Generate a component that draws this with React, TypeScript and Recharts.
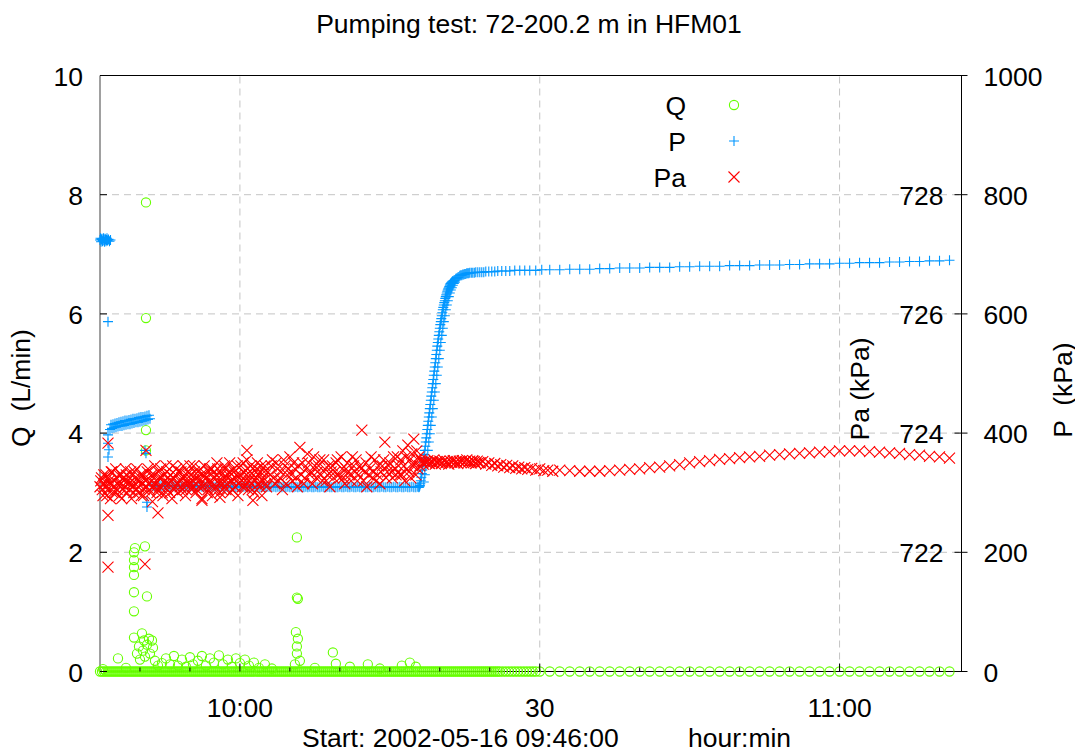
import React from 'react';
import { ComposedChart, Scatter, XAxis, YAxis, ReferenceLine, Legend } from 'recharts';

const FONT = '"Liberation Sans", Arial, Helvetica, sans-serif';
const FS = 26.5;
const Q_COLOR = '#66ff00';
const P_COLOR = '#0096ff';
const PA_COLOR = '#ff0000';
const GRID_COLOR = '#c4c4c4';

const TITLE = 'Pumping test: 72-200.2 m in HFM01';
const START_LABEL = 'Start: 2002-05-16 09:46:00';
const UNIT_LABEL = 'hour:min';
const Q_LABEL = 'Q  (L/min)';
const PA_LABEL = 'Pa (kPa)';
const P_LABEL = 'P  (kPa)';
const SERIES_ORDER = ['Q', 'P', 'Pa'];

// x = minutes after 09:46:00
const X_DOMAIN = [0, 86.1];
const xTicks = [4, 9, 14, 19, 24, 29, 34, 39, 44, 49, 54, 59, 64, 69, 74, 79, 84];
const xMajorTicks = [14, 44, 74];
const xMajorLabels = ['10:00', '30', '11:00'];
const qTicks = [0, 2, 4, 6, 8, 10];
const qGrid = [2, 4, 6, 8];
const paTicks = [722, 724, 726, 728];
const pTicks = [0, 200, 400, 600, 800, 1000];

// Q (L/min): readings at zero
const qZeroTimes = [
  0, 0.2, 0.4, 0.6, 0.8, 1.0, 1.2, 1.4, 1.6, 1.8, 2.0, 2.2, 2.4, 2.6, 2.8, 3.0, 3.2, 3.4, 3.6, 3.8,
  4.0, 4.2, 4.4, 4.6, 4.8, 5.0, 5.2, 5.4, 5.6, 5.8, 6.0, 6.2, 6.4, 6.6, 6.8, 7.0, 7.2, 7.4, 7.6, 7.8,
  8.0, 8.2, 8.4, 8.6, 8.8, 9.0, 9.2, 9.4, 9.6, 9.8, 10.0, 10.2, 10.4, 10.6, 10.8, 11.0, 11.2, 11.4, 11.6, 11.8,
  12.0, 12.2, 12.4, 12.6, 12.8, 13.0, 13.2, 13.4, 13.6, 13.8, 14.0, 14.2, 14.4, 14.6, 14.8, 15.0, 15.2, 15.4, 15.6, 15.8,
  16.0, 16.2, 16.4, 16.6, 16.8, 17.0, 17.2, 17.4, 17.6, 17.8, 18.0, 18.2, 18.4, 18.6, 18.8, 19.0, 19.2, 19.4, 19.6, 19.8,
  20.0, 20.2, 20.4, 20.6, 20.8, 21.0, 21.2, 21.4, 21.6, 21.8, 22.0, 22.2, 22.4, 22.6, 22.8, 23.0, 23.2, 23.4, 23.6, 23.8,
  24.0, 24.2, 24.4, 24.6, 24.8, 25.0, 25.2, 25.4, 25.6, 25.8, 26.0, 26.2, 26.4, 26.6, 26.8, 27.0, 27.2, 27.4, 27.6, 27.8,
  28.0, 28.2, 28.4, 28.6, 28.8, 29.0, 29.2, 29.4, 29.6, 29.8, 30.0, 30.2, 30.4, 30.6, 30.8, 31.0, 31.2, 31.4, 31.6, 31.8,
  32.0, 32.2, 32.4, 32.6, 32.8, 33.0, 33.2, 33.4, 33.6, 33.8, 34.0, 34.2, 34.4, 34.6, 34.8, 35.0, 35.2, 35.4, 35.6, 35.8,
  36.0, 36.2, 36.4, 36.6, 36.8, 37.0, 37.2, 37.4, 37.6, 37.8, 38.0, 38.2, 38.4, 38.6, 38.8, 39.0, 39.2, 39.4, 39.6, 39.8,
  40.0, 40.3, 40.6, 40.9, 41.2, 41.5, 41.8, 42.1, 42.4, 42.7, 43.0, 43.3, 43.6, 44.0,
  45, 46, 47, 48, 49, 50, 51, 52, 53, 54, 55, 56, 57, 58, 59, 60, 61, 62, 63, 64, 65, 66, 67, 68, 69,
  70, 71, 72, 73, 74, 75, 76, 77, 78, 79, 80, 81, 82, 83, 84, 85,
];

// Q (L/min): non-zero readings [minute, value]
const qBumps = [
  [0.3, 0.04], [1.8, 0.22], [2.6, 0.06], [3.4, 2.0], [3.4, 1.87], [3.4, 1.75], [3.4, 1.62], [3.4, 1.33],
  [3.4, 1.01], [3.4, 0.57], [3.5, 2.07], [3.7, 0.3], [3.9, 0.42], [4.0, 0.2], [4.2, 0.64], [4.3, 0.35],
  [4.4, 0.52], [4.5, 2.1], [4.5, 0.25], [4.6, 7.87], [4.6, 5.93], [4.6, 4.05], [4.6, 3.71], [4.7, 1.26],
  [4.7, 0.45], [4.9, 0.55], [5.0, 0.3], [5.2, 0.52], [5.3, 0.4], [5.5, 0.18], [5.8, 0.1], [6.2, 0.14],
  [6.6, 0.22], [7.0, 0.12], [7.4, 0.26], [7.8, 0.1], [8.2, 0.2], [8.6, 0.08], [9.0, 0.24], [9.3, 0.12],
  [9.8, 0.18], [10.2, 0.26], [10.6, 0.1], [11.0, 0.22], [11.4, 0.15], [11.9, 0.27], [12.3, 0.12],
  [12.8, 0.2], [13.2, 0.08], [13.6, 0.22], [14.0, 0.14], [14.5, 0.2], [14.9, 0.1], [15.4, 0.15],
  [15.9, 0.06], [16.5, 0.12], [17.2, 0.05], [19.5, 0.12], [19.6, 0.66], [19.7, 2.25], [19.7, 1.24],
  [19.7, 0.42], [19.7, 0.3], [19.8, 1.22], [19.8, 0.55], [20.0, 0.18], [21.5, 0.06], [23.3, 0.32],
  [23.6, 0.13], [25.0, 0.08], [26.8, 0.12], [28.0, 0.05], [30.2, 0.1], [31.0, 0.15], [31.6, 0.08],
];

// P (kPa) [minute, value]
const pStart = [
  [0, 724], [0.05, 727], [0.1, 721], [0.15, 725], [0.2, 726], [0.25, 722], [0.3, 723], [0.35, 727],
  [0.4, 724], [0.45, 721], [0.5, 726], [0.55, 725], [0.6, 722], [0.65, 724], [0.7, 727], [0.75, 723],
  [0.85, 725], [0.95, 722], [1.05, 724],
  [0.8, 587], [0.8, 397], [0.8, 383], [0.8, 360], [0.9, 372],
  [4.5, 371], [4.6, 366], [4.7, 284], [4.7, 276],
];
const pEarlyBand = [
  [1.0, 406], [1.1, 414], [1.2, 408], [1.3, 415], [1.4, 409], [1.5, 416], [1.6, 410], [1.7, 417],
  [1.8, 411], [1.9, 418], [2.0, 412], [2.1, 419], [2.2, 412], [2.3, 420], [2.4, 413], [2.5, 421],
  [2.6, 414], [2.7, 421], [2.8, 415], [2.9, 422], [3.0, 415], [3.1, 423], [3.2, 416], [3.3, 424],
  [3.4, 417], [3.5, 424], [3.6, 418], [3.7, 425], [3.8, 418], [3.9, 426], [4.0, 419], [4.1, 427],
  [4.2, 420], [4.3, 427], [4.4, 421], [4.5, 428], [4.6, 422], [4.7, 429], [4.8, 423], [4.9, 430], [5.0, 424],
];
const pFlat = [
  [5.2, 312], [5.4, 311], [5.6, 312], [5.8, 311], [6.0, 312], [6.2, 311], [6.4, 311], [6.6, 312], [6.8, 311], [7.0, 311],
  [7.2, 312], [7.4, 311], [7.6, 311], [7.8, 312], [8.0, 311], [8.2, 311], [8.4, 310], [8.6, 311], [8.8, 311], [9.0, 310],
  [9.2, 311], [9.4, 311], [9.6, 310], [9.8, 311], [10.0, 311], [10.2, 310], [10.4, 311], [10.6, 310], [10.8, 311], [11.0, 310],
  [11.2, 311], [11.4, 310], [11.6, 310], [11.8, 311], [12.0, 310], [12.2, 310], [12.4, 311], [12.6, 310], [12.8, 310], [13.0, 311],
  [13.2, 310], [13.4, 310], [13.6, 309], [13.8, 310], [14.0, 310], [14.2, 311], [14.4, 310], [14.6, 310], [14.8, 309], [15.0, 310],
  [15.2, 310], [15.4, 309], [15.6, 310], [15.8, 310], [16.0, 309], [16.2, 310], [16.4, 310], [16.6, 309], [16.8, 310], [17.0, 310],
  [17.2, 309], [17.4, 310], [17.6, 309], [17.8, 310], [18.0, 310], [18.2, 309], [18.4, 310], [18.6, 309], [18.8, 310], [19.0, 309],
  [19.2, 310], [19.4, 309], [19.6, 310], [19.8, 309], [20.0, 310], [20.2, 309], [20.4, 309], [20.6, 310], [20.8, 309], [21.0, 310],
  [21.2, 309], [21.4, 309], [21.6, 310], [21.8, 309], [22.0, 309], [22.2, 310], [22.4, 309], [22.6, 309], [22.8, 310], [23.0, 309],
  [23.2, 309], [23.4, 310], [23.6, 309], [23.8, 309], [24.0, 310], [24.2, 309], [24.4, 309], [24.6, 310], [24.8, 309], [25.0, 309],
  [25.2, 310], [25.4, 309], [25.6, 309], [25.8, 310], [26.0, 309], [26.2, 309], [26.4, 310], [26.6, 309], [26.8, 309], [27.0, 310],
  [27.2, 309], [27.4, 309], [27.6, 310], [27.8, 309], [28.0, 309], [28.2, 310], [28.4, 309], [28.6, 309], [28.8, 310], [29.0, 309],
  [29.2, 309], [29.4, 310], [29.6, 309], [29.8, 309], [30.0, 310], [30.2, 309], [30.4, 309], [30.6, 310], [30.8, 309], [31.0, 309],
  [31.2, 310], [31.4, 309], [31.6, 309], [31.8, 310],
];
const pRise = [
  [31.90, 309], [31.95, 310], [32.00, 312], [32.05, 315], [32.10, 320], [32.15, 326], [32.20, 332], [32.25, 338],
  [32.30, 345], [32.35, 351], [32.40, 358], [32.45, 364], [32.50, 371], [32.55, 378], [32.60, 385], [32.65, 392],
  [32.70, 399], [32.75, 406], [32.80, 413], [32.85, 420], [32.90, 427], [32.95, 434], [33.00, 441], [33.05, 448],
  [33.10, 455], [33.15, 462], [33.20, 469], [33.25, 476], [33.30, 483], [33.35, 490], [33.40, 497], [33.45, 504],
  [33.50, 511], [33.55, 518], [33.60, 525], [33.65, 532], [33.70, 539], [33.75, 546], [33.80, 552], [33.85, 558],
  [33.90, 564], [33.95, 570], [34.00, 576], [34.05, 582], [34.10, 587], [34.15, 592], [34.20, 597], [34.25, 602],
  [34.30, 607], [34.35, 611], [34.40, 615], [34.45, 619], [34.50, 622], [34.55, 626], [34.60, 629], [34.65, 632],
  [34.70, 635], [34.75, 638], [34.80, 640], [34.85, 642], [34.90, 644], [34.95, 646], [35.00, 648], [35.05, 650],
  [35.10, 651], [35.15, 652], [35.20, 653], [35.25, 654], [35.30, 655], [35.40, 656], [35.50, 657], [35.60, 659],
  [35.70, 660], [35.80, 661], [35.90, 662], [36.00, 664], [36.10, 665], [36.20, 665], [36.30, 666], [36.40, 666],
  [36.50, 667], [36.60, 667], [36.70, 668], [36.80, 668], [36.90, 668], [37.00, 669], [37.15, 669], [37.30, 669],
  [37.45, 669], [37.6, 670], [37.8, 670], [38.0, 670], [38.2, 670], [38.4, 670], [38.6, 671], [38.9, 671],
  [39.2, 671], [39.5, 671], [39.8, 672], [40.2, 672], [40.6, 672], [41.0, 672], [41.5, 673], [42.0, 673],
  [42.5, 673], [43.0, 673], [43.6, 673], [44.2, 674], [45.0, 674],
];
// trailing edge of the thick rising band
const pRiseTrail = [
  [32.4, 318], [32.5, 330], [32.6, 345], [32.7, 358], [32.8, 371], [32.9, 385], [33.0, 399], [33.1, 413],
  [33.2, 427], [33.3, 441], [33.4, 455], [33.5, 469], [33.6, 483], [33.7, 497], [33.8, 511], [33.9, 525],
  [34.0, 539], [34.1, 552], [34.2, 564], [34.3, 576], [34.4, 587], [34.5, 597], [34.6, 607], [34.7, 615],
  [34.8, 622], [34.9, 629], [35.0, 635], [35.1, 640], [35.2, 644], [35.3, 648], [35.4, 651], [35.5, 653],
];
const pLate = [
  [46, 674], [47, 675], [48, 675], [49, 675], [50, 676], [51, 676], [52, 677], [53, 677], [54, 677],
  [55, 678], [56, 678], [57, 678], [58, 679], [59, 679], [60, 680], [61, 680], [62, 680], [63, 681],
  [64, 681], [65, 681], [66, 682], [67, 682], [68, 682], [69, 683], [70, 683], [71, 684], [72, 684],
  [73, 684], [74, 685], [75, 685], [76, 686], [77, 686], [78, 686], [79, 687], [80, 687], [81, 688],
  [82, 688], [83, 689], [84, 689], [85, 690],
];

// Pa (kPa) [minute, value]
const paBandA = [
  [0.0, 723.10], [0.15, 723.25], [0.3, 722.95], [0.45, 723.15], [0.6, 723.30], [0.75, 723.05], [0.9, 723.20],
  [1.05, 722.90], [1.2, 723.35], [1.35, 723.10], [1.5, 723.00], [1.65, 723.25], [1.8, 723.15], [1.95, 722.95],
  [2.1, 723.30], [2.25, 723.05], [2.4, 723.20], [2.55, 723.40], [2.7, 723.00], [2.85, 723.15], [3.0, 723.25],
  [3.15, 722.90], [3.3, 723.10], [3.45, 723.35], [3.6, 723.05], [3.75, 723.20], [3.9, 723.00], [4.05, 723.30],
  [4.2, 723.15], [4.35, 722.95], [4.5, 723.25], [4.65, 723.10], [4.8, 723.40], [4.95, 723.05], [5.1, 723.20],
  [5.25, 722.85], [5.4, 723.30], [5.55, 723.15], [5.7, 723.00], [5.85, 723.35], [6.0, 723.10], [6.15, 723.25],
  [6.3, 722.95], [6.45, 723.20], [6.6, 723.45], [6.75, 723.05], [6.9, 723.15], [7.05, 723.30], [7.2, 722.90],
  [7.35, 723.25], [7.5, 723.10], [7.65, 723.40], [7.8, 723.00], [7.95, 723.20], [8.1, 723.35], [8.25, 723.05],
  [8.4, 723.25], [8.55, 722.95], [8.7, 723.30], [8.85, 723.15], [9.0, 723.45], [9.15, 723.05], [9.3, 723.20],
  [9.45, 723.35], [9.6, 723.00], [9.75, 723.25], [9.9, 723.10], [10.05, 723.40], [10.2, 722.90], [10.35, 723.30],
  [10.5, 723.15], [10.65, 723.25], [10.8, 723.05], [10.95, 723.40], [11.1, 723.20], [11.25, 722.95], [11.4, 723.35],
  [11.55, 723.10], [11.7, 723.50], [11.85, 723.20], [12.0, 723.00], [12.15, 723.30], [12.3, 723.15], [12.45, 723.45],
  [12.6, 723.05], [12.75, 723.25], [12.9, 723.35], [13.05, 723.00], [13.2, 723.20], [13.35, 723.40], [13.5, 723.10],
  [13.65, 723.30], [13.8, 722.95], [13.95, 723.25], [14.1, 723.45], [14.25, 723.10], [14.4, 723.35], [14.55, 723.20],
  [14.7, 723.55], [14.85, 723.05], [15.0, 723.30], [15.15, 723.15], [15.3, 723.40], [15.45, 723.00], [15.6, 723.25],
  [15.75, 723.50], [15.9, 723.15], [16.05, 723.35], [16.2, 722.95], [16.35, 723.25], [16.5, 723.45], [16.65, 723.10],
];
const paBandB = [
  [0.075, 723.20], [0.225, 723.05], [0.375, 723.30], [0.525, 723.10], [0.675, 722.95], [0.825, 723.25], [0.975, 723.15],
  [1.125, 723.35], [1.275, 723.00], [1.425, 723.20], [1.575, 723.40], [1.725, 723.05], [1.875, 723.30], [2.025, 723.15],
  [2.175, 722.90], [2.325, 723.25], [2.475, 723.10], [2.625, 723.30], [2.775, 723.20], [2.925, 723.05], [3.075, 723.35],
  [3.225, 723.15], [3.375, 723.00], [3.525, 723.25], [3.675, 723.40], [3.825, 723.10], [3.975, 723.20], [4.125, 722.95],
  [4.275, 723.30], [4.425, 723.05], [4.575, 723.20], [4.725, 723.35], [4.875, 723.15], [5.025, 723.00], [5.175, 723.30],
  [5.325, 723.10], [5.475, 723.45], [5.625, 723.20], [5.775, 723.05], [5.925, 723.25], [6.075, 723.40], [6.225, 723.00],
  [6.375, 723.30], [6.525, 723.15], [6.675, 723.35], [6.825, 723.25], [6.975, 723.00], [7.125, 723.20], [7.275, 723.45],
  [7.425, 723.05], [7.575, 723.30], [7.725, 723.15], [7.875, 723.35], [8.025, 723.10], [8.175, 723.25], [8.325, 723.45],
  [8.475, 723.15], [8.625, 723.05], [8.775, 723.35], [8.925, 723.20], [9.075, 723.30], [9.225, 723.10], [9.375, 723.45],
  [9.525, 723.25], [9.675, 723.05], [9.825, 723.35], [9.975, 723.20], [10.125, 723.30], [10.275, 723.10], [10.425, 723.45],
  [10.575, 723.25], [10.725, 723.00], [10.875, 723.35], [11.025, 723.15], [11.175, 723.40], [11.325, 723.25], [11.475, 723.05],
  [11.625, 723.30], [11.775, 723.40], [11.925, 723.15], [12.075, 723.35], [12.225, 723.05], [12.375, 723.25], [12.525, 723.40],
  [12.675, 723.15], [12.825, 723.30], [12.975, 723.50], [13.125, 723.20], [13.275, 723.05], [13.425, 723.35], [13.575, 723.25],
  [13.725, 723.45], [13.875, 723.15], [14.025, 723.30], [14.175, 723.20], [14.325, 723.50], [14.475, 723.10], [14.625, 723.30],
  [14.775, 723.40], [14.925, 723.20], [15.075, 723.45], [15.225, 723.05], [15.375, 723.30], [15.525, 723.20], [15.675, 723.40],
  [15.825, 723.30], [15.975, 723.10], [16.125, 723.45], [16.275, 723.20], [16.425, 723.35], [16.575, 723.15], [16.8, 723.35],
];
const paOutliers = [
  [0.8, 721.75], [0.8, 722.62], [0.8, 723.83], [4.5, 721.80], [4.6, 723.71], [5.8, 722.66], [10.2, 722.87],
  [12.0, 722.92], [14.7, 723.71], [15.3, 722.87], [20.0, 723.76], [26.2, 724.05], [28.5, 723.85], [26.7, 723.10],
];
const paMiddleA = [
  [17.0, 723.30], [17.25, 723.55], [17.5, 723.15], [17.75, 723.40], [18.0, 723.25], [18.25, 723.05], [18.5, 723.45],
  [18.75, 723.30], [19.0, 723.60], [19.25, 723.20], [19.5, 723.40], [19.75, 723.10], [20.25, 723.50],
  [20.5, 723.25], [20.75, 723.65], [21.0, 723.30], [21.25, 723.15], [21.5, 723.45], [21.75, 723.35], [22.0, 723.55],
  [22.25, 723.20], [22.5, 723.40], [22.75, 723.30], [23.0, 723.10], [23.25, 723.45], [23.5, 723.35], [23.75, 723.55],
  [24.0, 723.25], [24.25, 723.40], [24.5, 723.15], [24.75, 723.50], [25.0, 723.30], [25.25, 723.60], [25.5, 723.35],
  [25.75, 723.20], [26.0, 723.45], [26.5, 723.35], [27.0, 723.40], [27.25, 723.25],
  [27.5, 723.55], [27.75, 723.30], [28.0, 723.15], [28.25, 723.45], [28.75, 723.35], [29.0, 723.50],
  [29.25, 723.25], [29.5, 723.40], [29.75, 723.60], [30.0, 723.30],
];
const paMiddleB = [
  [17.125, 723.45], [17.375, 723.25], [17.625, 723.50], [17.875, 723.20], [18.125, 723.35], [18.375, 723.55], [18.625, 723.15],
  [18.875, 723.40], [19.125, 723.30], [19.375, 723.50], [19.625, 723.25], [19.875, 723.45], [20.125, 723.30], [20.375, 723.15],
  [20.625, 723.40], [20.875, 723.50], [21.125, 723.35], [21.375, 723.60], [21.625, 723.25], [21.875, 723.45], [22.125, 723.30],
  [22.375, 723.55], [22.625, 723.20], [22.875, 723.45], [23.125, 723.35], [23.375, 723.25], [23.625, 723.50], [23.875, 723.30],
  [24.125, 723.60], [24.375, 723.25], [24.625, 723.40], [24.875, 723.35], [25.125, 723.20], [25.375, 723.45], [25.625, 723.55],
  [25.875, 723.30], [26.125, 723.40], [26.375, 723.20], [26.625, 723.50], [26.875, 723.30], [27.125, 723.60], [27.375, 723.35],
  [27.625, 723.20], [27.875, 723.45], [28.125, 723.35], [28.375, 723.55], [28.625, 723.25], [28.875, 723.45], [29.125, 723.35],
  [29.375, 723.60], [29.625, 723.30], [29.875, 723.45],
];
const paJump = [
  [30.1, 723.55], [30.2, 723.30], [30.3, 723.70], [30.4, 723.45], [30.5, 723.20], [30.6, 723.60], [30.7, 723.40],
  [30.8, 723.80], [30.9, 723.35], [31.0, 723.55], [31.1, 723.25], [31.2, 723.65], [31.3, 723.45], [31.4, 723.90],
  [31.5, 723.50], [31.6, 723.30], [31.7, 723.70], [31.8, 723.40], [31.9, 723.60], [32.0, 723.45], [32.1, 723.55],
  [32.2, 723.52], [32.35, 723.48], [32.5, 723.53], [32.65, 723.50], [32.8, 723.54], [32.95, 723.49], [33.1, 723.52],
  [33.25, 723.50], [33.4, 723.55], [33.55, 723.48], [33.7, 723.52], [33.85, 723.50], [34.0, 723.53], [34.15, 723.49],
  [34.3, 723.51], [34.45, 723.54], [34.6, 723.50], [34.75, 723.52], [34.9, 723.48], [35.05, 723.53], [35.2, 723.51],
  [35.35, 723.54], [35.5, 723.50], [35.65, 723.52], [35.8, 723.49], [35.95, 723.53], [36.1, 723.51], [36.25, 723.54],
  [36.4, 723.50], [36.55, 723.52], [36.7, 723.55], [36.85, 723.51], [37.0, 723.53], [37.15, 723.50], [37.3, 723.54],
  [37.45, 723.52], [37.6, 723.49], [37.75, 723.53], [37.9, 723.51], [38.05, 723.50],
  [38.3, 723.52], [38.6, 723.48], [38.9, 723.50], [39.2, 723.46], [39.5, 723.49], [39.8, 723.45], [40.1, 723.47],
  [40.4, 723.43], [40.7, 723.46], [41.0, 723.42], [41.3, 723.45], [41.6, 723.41], [41.9, 723.43], [42.2, 723.40],
  [42.5, 723.42], [42.8, 723.39], [43.2, 723.41], [43.6, 723.38], [44.0, 723.40], [44.4, 723.37], [44.8, 723.38],
  [45.3, 723.36],
];
const paLate = [
  [46, 723.38], [47, 723.37], [48, 723.36], [49, 723.36], [50, 723.36], [51, 723.37], [52, 723.38], [53, 723.39],
  [54, 723.40], [55, 723.42], [56, 723.43], [57, 723.45], [58, 723.47], [59, 723.50], [60, 723.52], [61, 723.54],
  [62, 723.56], [63, 723.57], [64, 723.59], [65, 723.60], [66, 723.61], [67, 723.63], [68, 723.64], [69, 723.65],
  [70, 723.66], [71, 723.67], [72, 723.68], [73, 723.69], [74, 723.70], [75, 723.70], [76, 723.70], [77, 723.69],
  [78, 723.68], [79, 723.67], [80, 723.66], [81, 723.64], [82, 723.63], [83, 723.61], [84, 723.60], [85, 723.58],
];

const toRows = (pairs: number[][]) => pairs.map(([t, v]) => ({ t, v }));
const qRows = [...qZeroTimes.map((t) => ({ t, v: 0 })), ...toRows(qBumps)];
const pRows = toRows([...pStart, ...pEarlyBand, ...pFlat, ...pRise, ...pRiseTrail, ...pLate]);
const paRows = toRows([...paBandA, ...paBandB, ...paOutliers, ...paMiddleA, ...paMiddleB, ...paJump, ...paLate]);

const CircleMark = (p: any) => (
  <circle cx={p.cx} cy={p.cy} r={4.6} fill="none" stroke={Q_COLOR} strokeWidth={1.1} />
);
const PlusMark = (p: any) => (
  <path
    d={`M${p.cx - 5},${p.cy}H${p.cx + 5}M${p.cx},${p.cy - 5}V${p.cy + 5}`}
    stroke={P_COLOR}
    strokeWidth={1.1}
    fill="none"
  />
);
const CrossMark = (p: any) => (
  <path
    d={`M${p.cx - 5.5},${p.cy - 5.5}L${p.cx + 5.5},${p.cy + 5.5}M${p.cx - 5.5},${p.cy + 5.5}L${p.cx + 5.5},${p.cy - 5.5}`}
    stroke={PA_COLOR}
    strokeWidth={1.1}
    fill="none"
  />
);
const markerByName: Record<string, (p: any) => React.ReactElement> = {
  Q: CircleMark,
  P: PlusMark,
  Pa: CrossMark,
};

const textStyle = { fontFamily: FONT, fontSize: FS, fill: '#000' };

const QTick = (props: any) => {
  const { x, y, payload } = props;
  return (
    <g>
      <line x1={x} x2={x + 7} y1={y} y2={y} stroke="#000" />
      <text x={x - 17} y={y + 10} textAnchor="end" style={textStyle}>
        {payload.value}
      </text>
    </g>
  );
};

const PaTick = (props: any) => {
  const { x, y, payload } = props;
  return (
    <g>
      <text x={x - 17} y={y + 10} textAnchor="end" style={textStyle}>
        {payload.value}
      </text>
    </g>
  );
};

const PTick = (props: any) => {
  const { x, y, payload } = props;
  return (
    <g>
      <line x1={x - 7} x2={x + 6} y1={y} y2={y} stroke="#000" />
      <text x={x + 22} y={y + 10} textAnchor="start" style={textStyle}>
        {payload.value}
      </text>
    </g>
  );
};

const XTick = (props: any) => {
  const { x, y, payload } = props;
  const i = xMajorTicks.indexOf(payload.value);
  const major = i >= 0;
  return (
    <g>
      <line x1={x} x2={x} y1={y} y2={y - (major ? 8 : 4)} stroke="#000" />
      {major && (
        <text x={x} y={y + 45} textAnchor="middle" style={textStyle}>
          {xMajorLabels[i]}
        </text>
      )}
    </g>
  );
};

const rotatedLabel = (text: string, x: number, y: number) => (
  <text
    x={x}
    y={y}
    transform={`rotate(-90 ${x} ${y})`}
    textAnchor="middle"
    style={{ ...textStyle, whiteSpace: 'pre' }}
  >
    {text}
  </text>
);

const QAxisLabel = (props: any) => {
  const vb = props.viewBox;
  return rotatedLabel(Q_LABEL, vb.x + 29.5, vb.y + vb.height / 2 + 14.5);
};
const PaAxisLabel = (props: any) => {
  const vb = props.viewBox;
  return rotatedLabel(PA_LABEL, vb.x - 91.5, vb.y + vb.height / 2 + 15.5);
};
const PAxisLabel = (props: any) => {
  const vb = props.viewBox;
  return rotatedLabel(P_LABEL, vb.x + 110, vb.y + vb.height / 2 + 16.5);
};
const XAxisLabel = (props: any) => {
  const vb = props.viewBox;
  return (
    <g>
      <text x={vb.x + 202} y={vb.y + 75} textAnchor="start" style={textStyle}>
        {START_LABEL}
      </text>
      <text x={vb.x + 588} y={vb.y + 75} textAnchor="start" style={textStyle}>
        {UNIT_LABEL}
      </text>
    </g>
  );
};

const LegendContent = (props: any) => {
  const payload = [...(props.payload || [])].sort(
    (a: any, b: any) => SERIES_ORDER.indexOf(a.value) - SERIES_ORDER.indexOf(b.value)
  );
  return (
    <svg width={140} height={112} style={{ display: 'block', overflow: 'visible' }}>
      {payload.map((entry: any, i: number) => {
        const cy = 20 + i * 36;
        const Mark = markerByName[entry.value];
        return (
          <g key={entry.value}>
            <text x={66} y={cy + 9.5} textAnchor="end" style={textStyle}>
              {entry.value}
            </text>
            {Mark ? <Mark cx={114} cy={cy} /> : null}
          </g>
        );
      })}
    </svg>
  );
};

export default function App() {
  return (
    <div style={{ position: 'absolute', left: 0, top: 0, background: '#fff' }}>
      <ComposedChart
        width={1075}
        height={751}
        margin={{ top: 75.5, right: 0, bottom: 0, left: 0 }}
        style={{ fontFamily: FONT }}
      >
        <XAxis
          dataKey="t"
          type="number"
          domain={X_DOMAIN}
          ticks={xTicks}
          interval={0}
          height={79.5}
          tickSize={0}
          tickMargin={0}
          tickLine={false}
          axisLine={{ stroke: '#000' }}
          tick={<XTick />}
          label={XAxisLabel}
        />
        <YAxis
          yAxisId="aQ"
          dataKey="v"
          type="number"
          orientation="left"
          width={100}
          domain={[0, 10]}
          ticks={qTicks}
          interval={0}
          tickSize={0}
          tickMargin={0}
          tickLine={false}
          axisLine={{ stroke: '#808080', strokeWidth: 1.5 }}
          tick={<QTick />}
          label={QAxisLabel}
        />
        <YAxis
          yAxisId="innerPa"
          dataKey="v"
          type="number"
          orientation="right"
          width={1}
          domain={[720, 730]}
          ticks={paTicks}
          interval={0}
          tickSize={0}
          tickMargin={0}
          tickLine={false}
          axisLine={false}
          tick={<PaTick />}
          label={PaAxisLabel}
        />
        <YAxis
          yAxisId="outerP"
          dataKey="v"
          type="number"
          orientation="right"
          width={113.5}
          domain={[0, 1000]}
          ticks={pTicks}
          interval={0}
          tickSize={0}
          tickMargin={0}
          tickLine={false}
          axisLine={{ stroke: '#000' }}
          tick={<PTick />}
          label={PAxisLabel}
        />
        {qGrid.map((v) => (
          <ReferenceLine key={`h${v}`} yAxisId="aQ" y={v} stroke={GRID_COLOR} strokeDasharray="7 5" />
        ))}
        {xMajorTicks.map((v) => (
          <ReferenceLine key={`v${v}`} yAxisId="aQ" x={v} stroke={GRID_COLOR} strokeDasharray="7 5" />
        ))}
        <ReferenceLine yAxisId="aQ" y={10} stroke="#000" />
        <Scatter name="Q" data={qRows} dataKey="v" yAxisId="aQ" fill={Q_COLOR} shape={CircleMark} isAnimationActive={false} />
        <Scatter name="P" data={pRows} dataKey="v" yAxisId="outerP" fill={P_COLOR} shape={PlusMark} isAnimationActive={false} />
        <Scatter name="Pa" data={paRows} dataKey="v" yAxisId="innerPa" fill={PA_COLOR} shape={CrossMark} isAnimationActive={false} />
        <Legend
          layout="vertical"
          align="center"
          verticalAlign="middle"
          content={LegendContent}
          wrapperStyle={{ left: 620, top: 85, width: 140, height: 112 }}
        />
        <text x={529} y={33} textAnchor="middle" style={textStyle}>
          {TITLE}
        </text>
      </ComposedChart>
    </div>
  );
}
